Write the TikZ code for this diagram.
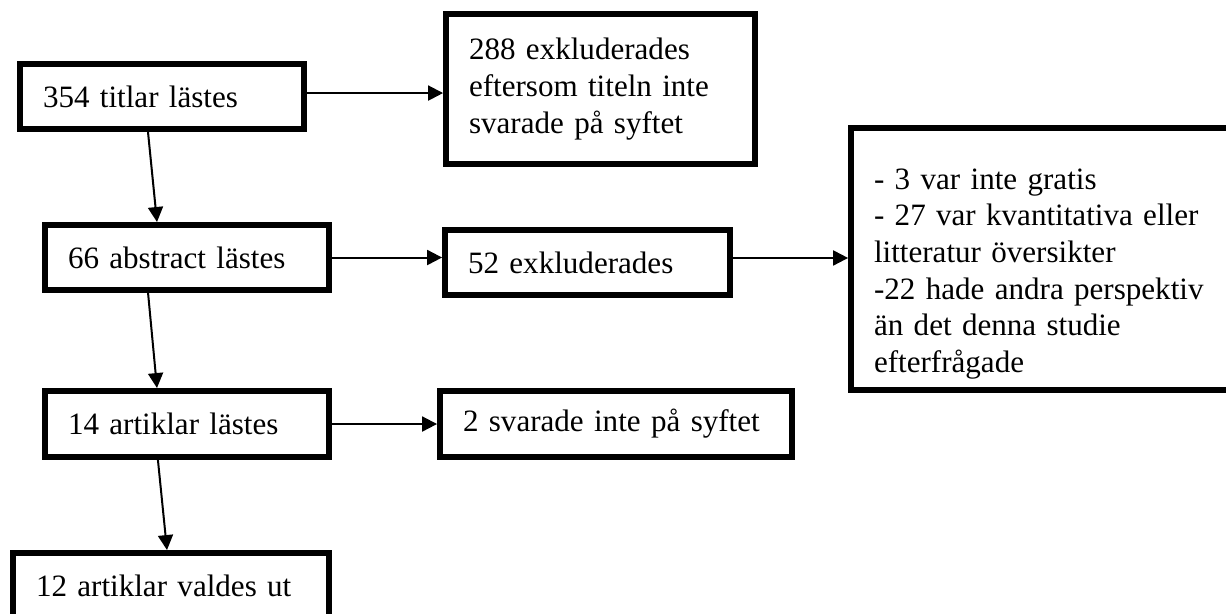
\documentclass[tikz,border=0pt]{standalone}
\usepackage{fontspec}
\setmainfont{Liberation Serif}
\usetikzlibrary{arrows.meta}

\begin{document}
\begin{tikzpicture}[x=0.375pt,y=-0.375pt,line width=0.75pt,
    >={Triangle[length=5.6pt,width=5.6pt]},
    box/.style={draw,line width=2.25pt,inner xsep=8.6pt,inner ysep=0pt,
      align=left,font=\fontsize{11.65}{13.75}\selectfont}]
   \useasboundingbox (0,0) rectangle (1226,613);
   \clip (0,0) rectangle (1226,613);
   % steps on the left
   \node[box,text width=89.25pt,minimum height=24.4pt] (m_0) at (162,96.5) {354 titlar lästes};
   \node[box,text width=89.25pt,minimum height=24.4pt] (m_1) at (187,257.5) {66 abstract lästes};
   \node[box,text width=89.25pt,minimum height=24.75pt] (m_2) at (187,424) {14 artiklar lästes};
   \node[box,text width=101.25pt,minimum height=24.75pt] (m_3) at (171,586) {12 artiklar valdes ut};
   % excluded
   \node[box,text width=98.6pt,minimum height=56.25pt] (e_0) at (600.5,89)
      {288 exkluderades\\ eftersom titeln inte\\ svarade på syftet};
   \node[box,text width=89.6pt,minimum height=24.4pt] (e_1) at (587.5,262.5) {52 exkluderades};
   \node[box,text width=114.75pt,minimum height=24.75pt] (e_2) at (616,424) {2 svarade inte på syftet};
   \node[box,text width=128.6pt,minimum height=98.25pt] (r_0) at (1045.5,259)
      {\rule{0pt}{19pt}- 3 var inte gratis\\ - 27 var kvantitativa eller\\ litteratur översikter\\
       -22 hade andra perspektiv\\ än det denna studie\\ efterfrågade};
   \path[->]
    ([xshift=-5.25pt]m_0.south) edge ([xshift=-11.25pt]m_1.north)
    ([yshift=1.3pt]m_0.east) edge ([yshift=1.3pt]m_0.east -| e_0.west)

    ([xshift=-14.6pt]m_1.south) edge ([xshift=-11.25pt]m_2.north)
    (m_1.east) edge (m_1.east -| e_1.west)

    ([yshift=1.7pt]e_1.east) edge ([yshift=1.7pt]e_1.east -| r_0.west)

    ([xshift=-10.9pt]m_2.south) edge ([xshift=-1.5pt]m_3.north)
    (m_2.east) edge (m_2.east -| e_2.west);
\end{tikzpicture}
\end{document}
